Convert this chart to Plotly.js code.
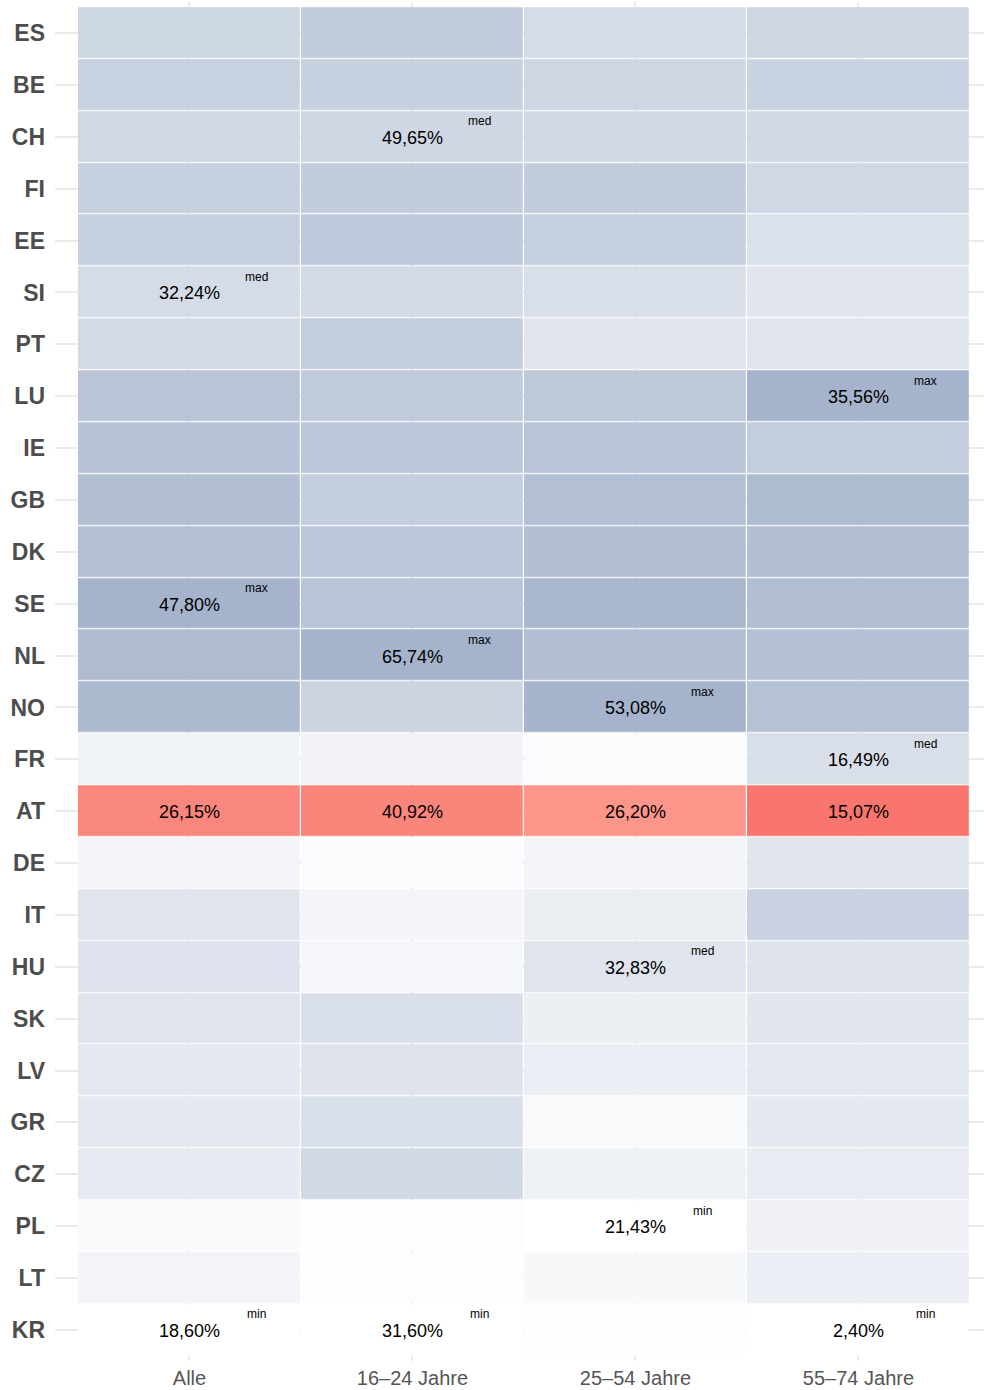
<!DOCTYPE html>
<html>
<head>
<meta charset="utf-8">
<script src="https://cdn.plot.ly/plotly-3.0.1.min.js"></script>
<style>
  html, body { margin: 0; padding: 0; background: #ffffff; }
  #chart { width: 984px; height: 1390px; }
</style>
</head>
<body>
<div id="chart"></div>
<script>
// ---- data ----
const countries = ['ES','BE','CH','FI','EE','SI','PT','LU','IE','GB','DK','SE','NL','NO','FR','AT','DE','IT','HU','SK','LV','GR','CZ','PL','LT','KR'];
const groups = ['Alle', '16–24 Jahre', '25–54 Jahre', '55–74 Jahre'];
const alle   = [34.7, 36.7, 33.8, 37.0, 36.9, 32.24, 33.2, 41.4, 42.0, 43.7, 43.5, 47.80, 44.9, 45.5, 23.0, 26.15, 22.9, 29.1, 29.7, 29.0, 27.4, 27.2, 26.8, 20.6, 22.7, 18.60];
const j16_24 = [54.8, 53.1, 49.65, 54.6, 56.5, 48.0, 54.3, 55.8, 57.2, 53.8, 57.5, 58.2, 65.74, 51.1, 37.1, 40.92, 33.0, 36.0, 35.7, 45.9, 44.2, 45.6, 49.0, 32.6, 32.5, 31.60];
const j25_54 = [36.3, 38.8, 37.6, 43.0, 41.7, 35.0, 32.5, 44.8, 46.1, 48.3, 48.6, 51.5, 49.0, 53.08, 23.0, 26.20, 26.1, 28.7, 32.83, 28.1, 28.4, 24.0, 27.4, 21.43, 24.3, 22.0];
const j55_74 = [20.6, 22.3, 19.3, 19.6, 15.7, 13.7, 14.3, 35.56, 24.6, 32.2, 30.9, 31.6, 29.9, 29.6, 16.49, 15.07, 13.6, 22.1, 14.7, 13.0, 12.7, 12.3, 10.7, 8.4, 9.7, 2.40];
const medianCountry = ['SI', 'CH', 'HU', 'FR'];
const highlightCountry = 'AT';

// ---- build ----
const cols = [alle, j16_24, j25_54, j55_74];
const nRows = countries.length, nCols = groups.length;
const hiIdx = countries.indexOf(highlightCountry);

const norm = cols.map(c => {
  const mn = Math.min(...c), mx = Math.max(...c);
  return c.map(v => (v - mn) / (mx - mn));
});

const zBlue = [], zRed = [];
for (let r = 0; r < nRows; r++) {
  const rb = [], rr = [];
  for (let c = 0; c < nCols; c++) {
    if (r === hiIdx) { rb.push(null); rr.push(norm[c][r]); }
    else { rb.push(norm[c][r]); rr.push(null); }
  }
  zBlue.push(rb); zRed.push(rr);
}

const xIdx = groups.map((g, i) => i);
const yIdx = countries.map((c, i) => i);

const fmt = v => v.toFixed(2).replace('.', ',') + '%';

const annotations = [];
const FONT = '"Liberation Sans", Arial, sans-serif';
for (let c = 0; c < nCols; c++) {
  const col = cols[c];
  const mn = Math.min(...col), mx = Math.max(...col);
  const tagged = {};
  tagged[col.indexOf(mn)] = 'min';
  tagged[col.indexOf(mx)] = 'max';
  tagged[countries.indexOf(medianCountry[c])] = 'med';
  for (let r = 0; r < nRows; r++) {
    const tag = tagged[r];
    if (tag || r === hiIdx) {
      annotations.push({
        x: c, y: r, xref: 'x', yref: 'y', text: fmt(col[r]), showarrow: false,
        yshift: -1,
        font: { family: FONT, size: 18, color: '#000000' }
      });
    }
    if (tag) {
      annotations.push({
        x: c + 0.30, y: r - 0.30, xref: 'x', yref: 'y', text: tag, showarrow: false,
        font: { family: FONT, size: 12, color: '#000000' }
      });
    }
  }
}

const traces = [
  {
    type: 'heatmap', x: xIdx, y: yIdx, z: zBlue, zmin: 0, zmax: 1,
    colorscale: [[0, '#ffffff'], [1, '#a5b4cc']],
    showscale: false, xgap: 1.2, ygap: 1.2, hoverongaps: false
  },
  {
    type: 'heatmap', x: xIdx, y: yIdx, z: zRed, zmin: 0, zmax: 1,
    colorscale: [[0, '#ffab9e'], [0.382, '#f8766d'], [1, '#e8261f']],
    showscale: false, xgap: 1.2, ygap: 1.2, hoverongaps: false
  }
];

const layout = {
  width: 984, height: 1390,
  margin: { l: 55, r: 0, t: 2, b: 29 },
  paper_bgcolor: '#ffffff', plot_bgcolor: '#ffffff',
  showlegend: false,
  font: { family: FONT },
  xaxis: {
    range: [-0.603, 3.563], tickvals: xIdx, ticktext: groups,
    showgrid: true, gridcolor: '#ebebeb', gridwidth: 2, zeroline: false,
    showline: false, ticks: '', ticklabelstandoff: 3,
    tickfont: { family: FONT, size: 20, color: '#555555' }, fixedrange: true
  },
  yaxis: {
    range: [25.6, -0.6], tickvals: yIdx, ticktext: countries,
    showgrid: true, gridcolor: '#ebebeb', gridwidth: 2, zeroline: false,
    showline: false, ticks: '', ticklabelstandoff: 9,
    tickfont: { family: FONT, size: 23, color: '#4d4d4d', weight: 'bold' }, fixedrange: true
  },
  annotations: annotations
};

Plotly.newPlot('chart', traces, layout, { displayModeBar: false, staticPlot: true });
</script>
</body>
</html>
